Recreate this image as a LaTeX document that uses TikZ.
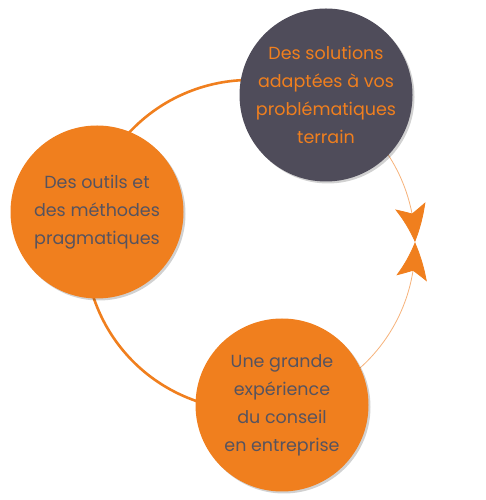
\documentclass[tikz,border=0pt]{standalone}
\usepackage{fontspec}
\setmainfont{Poppins}
\usetikzlibrary{arrows.meta,shadows,backgrounds,bending}
\definecolor{brandorange}{HTML}{F07F1E}
\definecolor{lightorange}{HTML}{F6B27A}
\definecolor{darkslate}{HTML}{4F4C5A}
\definecolor{textgray}{HTML}{56535F}
\begin{document}
\begin{tikzpicture}[x=1pt,y=1pt,
  bubble/.style={circle, minimum size=173pt, inner sep=0pt, align=center,
    font=\fontsize{17.5}{28}\selectfont,
    drop shadow={shadow xshift=2pt, shadow yshift=-2pt, opacity=0.18, fill=black}},
  orangebubble/.style={bubble, fill=brandorange, text=textgray},
  darkbubble/.style={bubble, fill=darkslate, text=brandorange},
  thickring/.style={draw=brandorange, line width=2.6pt},
  thinring/.style={draw=lightorange, line width=0.8pt,
    -{Stealth[length=37pt,width=31pt,inset=8pt,color=brandorange,bend]}}]
\useasboundingbox (0,0) rectangle (485,500);
\coordinate (ring) at (250,255);
\node[darkbubble] (top) at (326,405) {Des solutions\\adaptées à vos\\problématiques\\terrain};
\node[orangebubble] (left) at (97,288) {Des outils et\\des méthodes\\pragmatiques};
\node[orangebubble] (bottom) at (282,95) {Une grande\\expérience\\du conseil\\en entreprise};
\begin{pgfonlayer}{background}
\draw[thickring] (ring) ++(63:165) arc[start angle=63, end angle=281, radius=165];
\draw[thinring] (ring) ++(63:165) arc[start angle=63, end angle=1, radius=165];
\draw[thinring] (ring) ++(-79:165) arc[start angle=-79, end angle=1, radius=165];
\end{pgfonlayer}
\end{tikzpicture}
\end{document}
